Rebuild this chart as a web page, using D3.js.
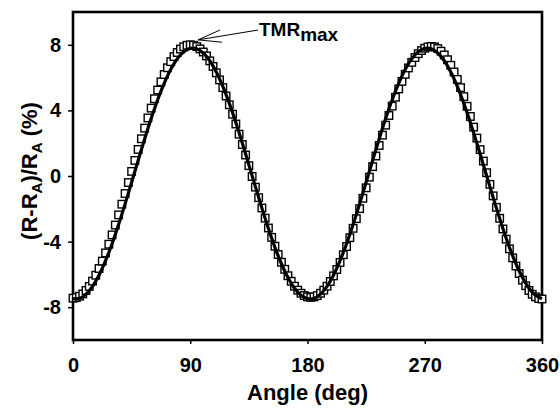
<!DOCTYPE html>
<html>
<head>
<meta charset="utf-8">
<script src="https://cdn.jsdelivr.net/npm/d3@7"></script>
<style>
  html, body { margin: 0; padding: 0; background: #fff; }
  svg text { font-family: Arial, "Liberation Sans", Helvetica, sans-serif; font-weight: bold; fill: #000; }
</style>
</head>
<body>
<div id="chart"></div>
<script>
// measured points (open squares), one every 2.5 deg from 0 to 360
const angleStep = 2.5;
const measured = [
  -7.45, -7.42, -7.33, -7.19, -6.98, -6.73, -6.41, -6.05, -5.64, -5.19,
  -4.69, -4.16, -3.59, -2.99, -2.37, -1.72, -1.07, -0.40, 0.28, 0.95,
  1.62, 2.27, 2.92, 3.54, 4.14, 4.71, 5.24, 5.74, 6.19, 6.60,
  6.97, 7.28, 7.53, 7.74, 7.88, 7.97, 8.00,
  7.97, 7.89, 7.75, 7.56, 7.32, 7.02, 6.68, 6.29, 5.86, 5.39,
  4.88, 4.34, 3.77, 3.17, 2.55, 1.92, 1.28, 0.63, -0.03, -0.68,
  -1.32, -1.95, -2.57, -3.17, -3.74, -4.28, -4.79, -5.26, -5.69, -6.08,
  -6.42, -6.72, -6.96, -7.15, -7.29, -7.37, -7.40,
  -7.37, -7.29, -7.15, -6.96, -6.72, -6.43, -6.09, -5.70, -5.27, -4.80,
  -4.30, -3.76, -3.19, -2.60, -1.99, -1.36, -0.72, -0.07, 0.57, 1.22,
  1.86, 2.49, 3.10, 3.69, 4.26, 4.80, 5.31, 5.77, 6.20, 6.59,
  6.93, 7.22, 7.46, 7.65, 7.79, 7.87, 7.90,
  7.87, 7.77, 7.61, 7.38, 7.09, 6.75, 6.34, 5.89, 5.39, 4.84,
  4.25, 3.63, 2.98, 2.31, 1.61, 0.91, 0.20, -0.51, -1.21, -1.91,
  -2.58, -3.23, -3.85, -4.44, -4.99, -5.49, -5.95, -6.35, -6.69, -6.98,
  -7.21, -7.37, -7.47, -7.50
];

// fitted curve (solid line), one every 5 deg
const fitStep = 5;
const fitted = [
  -7.48, -7.46, -7.20, -6.73, -6.04, -5.16, -4.13, -2.96, -1.70, -0.38,
  0.95, 2.26, 3.50, 4.65, 5.65, 6.49, 7.14, 7.57, 7.78, 7.76,
  7.50, 7.03, 6.34, 5.46, 4.43, 3.26, 2.00, 0.68, -0.65, -1.96,
  -3.20, -4.35, -5.35, -6.19, -6.84, -7.27, -7.48,
  -7.46, -7.20, -6.73, -6.04, -5.16, -4.13, -2.96, -1.70, -0.38,
  0.95, 2.26, 3.50, 4.65, 5.65, 6.49, 7.14, 7.57, 7.78, 7.76,
  7.50, 7.03, 6.34, 5.46, 4.43, 3.26, 2.00, 0.68, -0.65, -1.96,
  -3.20, -4.35, -5.35, -6.19, -6.84, -7.27, -7.48
];

const xTicks = [0, 90, 180, 270, 360];
const yTicks = [-8, -4, 0, 4, 8];
const xTitle = "Angle (deg)";

// arrow pointing at the first maximum: [angle, value]
const arrowTip = [96, 8.3];
const arrowTail = [142, 8.9];

const width = 560, height = 409;
const margin = { top: 12, right: 18, bottom: 69, left: 73 };
const plotW = width - margin.left - margin.right;
const plotH = height - margin.top - margin.bottom;

const svg = d3.select("#chart").append("svg")
  .attr("width", width)
  .attr("height", height);

const g = svg.append("g")
  .attr("transform", `translate(${margin.left},${margin.top})`);

const x = d3.scaleLinear().domain([0, 360]).range([0, plotW]);
const y = d3.scaleLinear().domain([-10, 10]).range([plotH, 0]);

// axes (plain hyphen for negatives, like the original)
const fmt = d => String(d);
const xAxis = g.append("g")
  .attr("transform", `translate(0,${plotH})`)
  .call(d3.axisBottom(x).tickValues(xTicks).tickFormat(fmt).tickSize(4).tickPadding(14).tickSizeOuter(0));
xAxis.selectAll("text").style("font-size", "20px");

const yAxis = g.append("g")
  .call(d3.axisLeft(y).tickValues(yTicks).tickFormat(fmt).tickSize(5).tickPadding(7).tickSizeOuter(0));
yAxis.selectAll("text").style("font-size", "20px");

g.selectAll(".tick line").attr("stroke", "#000").attr("stroke-width", 1.5);
g.selectAll(".domain").remove();

// frame
g.append("rect")
  .attr("x", 0).attr("y", 0)
  .attr("width", plotW).attr("height", plotH)
  .attr("fill", "none")
  .attr("stroke", "#000")
  .attr("stroke-width", 2.6);

// squares
const pts = measured.map((v, i) => ({ a: i * angleStep, v: v }));
const sq = 7.5;
g.append("g").selectAll("rect")
  .data(pts)
  .enter().append("rect")
  .attr("x", d => x(d.a) - sq / 2)
  .attr("y", d => y(d.v) - sq / 2)
  .attr("width", sq)
  .attr("height", sq)
  .attr("fill", "#fff")
  .attr("stroke", "#000")
  .attr("stroke-width", 1.4);

// fitted line
const fitPts = fitted.map((v, i) => ({ a: i * fitStep, v: v }));
const line = d3.line()
  .x(d => x(d.a))
  .y(d => y(d.v))
  .curve(d3.curveCatmullRom);

g.append("path")
  .datum(fitPts)
  .attr("fill", "none")
  .attr("stroke", "#000")
  .attr("stroke-width", 3.2)
  .attr("d", line);

// annotation arrow
const tx = x(arrowTip[0]), ty = y(arrowTip[1]);
const ex = x(arrowTail[0]), ey = y(arrowTail[1]);
const ang = Math.atan2(ey - ty, ex - tx);
const barb = 24, spread = 0.26;
g.append("path")
  .attr("d", `M${ex},${ey}L${tx},${ty}` +
    `M${tx + barb * Math.cos(ang - spread)},${ty + barb * Math.sin(ang - spread)}L${tx},${ty}` +
    `L${tx + barb * Math.cos(ang + spread)},${ty + barb * Math.sin(ang + spread)}`)
  .attr("fill", "none")
  .attr("stroke", "#000")
  .attr("stroke-width", 1);

const lab = g.append("text")
  .attr("x", ex + 1)
  .attr("y", ey + 6);
lab.append("tspan").style("font-size", "19px").text("TMR");
lab.append("tspan").style("font-size", "19px").attr("dy", 5).text("max");

// axis titles
g.append("text")
  .attr("x", plotW / 2)
  .attr("y", plotH + 60)
  .attr("text-anchor", "middle")
  .style("font-size", "22px")
  .text(xTitle);

const yt = g.append("text")
  .attr("transform", "rotate(-90)")
  .attr("x", -(plotH / 2) + 5)
  .attr("y", -36)
  .attr("text-anchor", "middle")
  .style("font-size", "22px");
yt.append("tspan").text("(R-R");
yt.append("tspan").style("font-size", "15px").attr("dy", 5).text("A");
yt.append("tspan").attr("dy", -5).text(")/R");
yt.append("tspan").style("font-size", "15px").attr("dy", 5).text("A");
yt.append("tspan").attr("dy", -5).text(" (%)");
</script>
</body>
</html>
